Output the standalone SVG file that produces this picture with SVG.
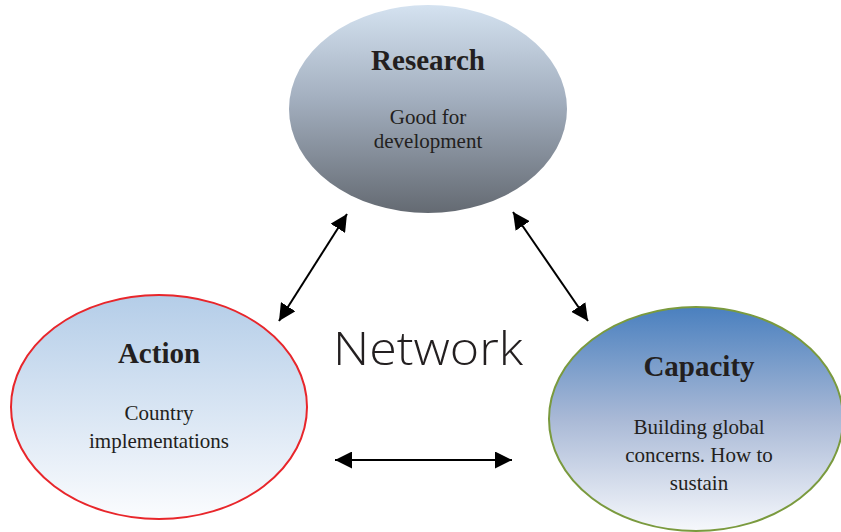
<svg xmlns="http://www.w3.org/2000/svg" width="841" height="532" viewBox="0 0 841 532">
  <style>
    .title { font-family: "Liberation Serif", "Times New Roman", serif; font-weight: bold; font-size: 29px; fill: #231f20; text-anchor: middle; }
    .body { font-family: "Liberation Serif", "Times New Roman", serif; font-size: 21px; fill: #231f20; text-anchor: middle; }
    .net { font-family: "Open Sans", "Liberation Sans", Arial, sans-serif; font-weight: 300; font-size: 46px; fill: #231f20; }
    .link { stroke: #000; stroke-width: 2; fill: none; marker-start: url(#head); marker-end: url(#head); }
  </style>
  <defs>
    <linearGradient id="gResearch" x1="0" y1="0" x2="0" y2="1">
      <stop offset="0" stop-color="#d4e2f0"/>
      <stop offset="0.45" stop-color="#a3afbf"/>
      <stop offset="1" stop-color="#646a72"/>
    </linearGradient>
    <linearGradient id="gAction" x1="0" y1="0" x2="0" y2="1">
      <stop offset="0" stop-color="#b4cde8"/>
      <stop offset="1" stop-color="#fbfcfe"/>
    </linearGradient>
    <linearGradient id="gCapacity" x1="0" y1="0" x2="0" y2="1">
      <stop offset="0" stop-color="#4a80bf"/>
      <stop offset="0.5" stop-color="#a9b9d6"/>
      <stop offset="1" stop-color="#f6f8fc"/>
    </linearGradient>
    <marker id="head" viewBox="0 0 10 10" refX="10" refY="5" markerWidth="8.5" markerHeight="8.5" markerUnits="strokeWidth" orient="auto-start-reverse">
      <path d="M0,0 L10,5 L0,10 z" fill="#000"/>
    </marker>
  </defs>

  <g id="research">
    <ellipse cx="428" cy="109" rx="139" ry="104" fill="url(#gResearch)"/>
    <text class="title" x="428" y="70">Research</text>
    <text class="body" x="428" y="124">Good for</text>
    <text class="body" x="428" y="148">development</text>
  </g>

  <g id="action">
    <ellipse cx="159" cy="407" rx="148" ry="112" fill="url(#gAction)" stroke="#e8262b" stroke-width="2"/>
    <text class="title" x="159" y="363">Action</text>
    <text class="body" x="159" y="420">Country</text>
    <text class="body" x="159" y="448">implementations</text>
  </g>

  <g id="capacity">
    <ellipse cx="696" cy="419" rx="147" ry="112" fill="url(#gCapacity)" stroke="#7a9a3e" stroke-width="2"/>
    <text class="title" x="699" y="376">Capacity</text>
    <text class="body" x="699" y="434">Building global</text>
    <text class="body" x="699" y="462">concerns. How to</text>
    <text class="body" x="699" y="490">sustain</text>
  </g>

  <g id="network-label">
    <text class="net" x="333" y="365" textLength="190" lengthAdjust="spacingAndGlyphs">Network</text>
  </g>

  <g id="connectors">
    <line class="link" x1="347" y1="214" x2="279" y2="321"/>
    <line class="link" x1="513" y1="212" x2="588" y2="321"/>
    <line class="link" x1="335" y1="460" x2="512" y2="460"/>
  </g>
</svg>
